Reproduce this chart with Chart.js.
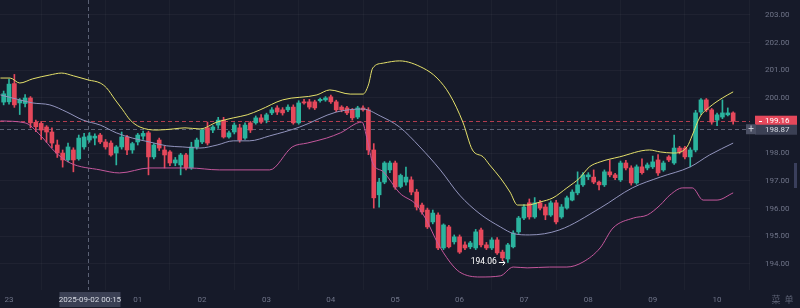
<!DOCTYPE html>
<html><head><meta charset="utf-8">
<script src="https://cdn.jsdelivr.net/npm/chart.js@4.4.0/dist/chart.umd.min.js"></script>
<style>html,body{margin:0;padding:0;background:#161a29;}#wrap{width:800px;height:308px;position:relative}</style>
</head><body><div id="wrap"><canvas id="c" width="800" height="308"></canvas></div>
<script>
// ---- data ----
const hourLabels = ["23","00","01","02","03","04","05","06","07","08","09","10"];
const hourMinutes = [0,60,120,180,240,300,360,420,480,540,600,660];   // minutes after 23:00
const yTickValues = [194,195,196,197,198,199,200,201,202,203];
const startMinute = -5;      // first candle 22:55, 5-minute candles
const stepMinutes = 5;
const opens = [199.85,199.86,200.52,199.82,199.80,200.00,199.12,199.08,198.95,198.77,198.30,198.01,197.76,198.12,197.80,198.23,198.48,198.55,198.66,198.41,198.37,198.01,198.23,198.59,198.12,198.41,198.62,198.74,197.87,198.48,198.12,198.05,197.65,197.58,197.94,197.47,198.23,198.41,198.92,198.84,199.02,199.20,198.59,198.77,198.92,198.55,199.10,199.10,199.28,199.20,199.46,199.64,199.57,199.57,199.67,199.10,199.86,199.86,199.86,199.90,199.93,200.04,199.86,199.67,199.64,199.57,199.31,199.64,199.57,198.12,196.50,196.96,197.40,197.65,196.80,196.96,197.04,196.60,196.13,195.95,195.52,195.77,194.58,195.34,194.80,194.98,194.69,194.62,194.58,195.23,194.69,194.58,194.87,194.43,194.18,194.62,195.16,195.66,196.21,195.70,196.21,196.06,195.77,196.21,195.70,196.02,196.31,196.57,196.86,197.15,197.14,196.96,196.86,197.33,197.22,197.04,197.65,197.47,196.93,197.51,197.47,197.51,197.76,197.40,197.87,197.65,198.19,198.19,197.87,198.12,199.49,199.93,199.57,199.20,199.31,199.39,199.46];
const highs = [200.25,200.68,200.85,199.98,200.12,200.05,199.20,199.15,199.00,198.92,198.48,198.12,198.37,198.20,198.66,198.72,198.75,198.70,198.72,198.50,198.45,198.28,198.77,198.65,198.40,198.72,198.80,198.80,198.35,198.55,198.25,198.10,197.85,198.00,198.00,198.40,198.55,198.90,199.13,199.00,199.30,199.30,198.80,199.10,199.05,199.10,199.15,199.35,199.40,199.45,199.65,199.72,199.65,199.75,199.75,199.90,199.95,199.95,199.92,200.00,200.05,200.10,199.92,199.72,199.70,199.62,199.70,199.72,199.65,198.35,197.10,197.70,197.72,197.72,197.25,197.50,197.15,196.70,196.20,196.02,195.95,195.85,195.45,195.40,195.05,195.05,194.80,194.82,195.25,195.30,194.78,194.95,194.95,194.50,194.75,195.20,195.72,196.15,196.35,196.40,196.30,196.15,196.28,196.30,196.15,196.45,196.68,197.33,197.30,197.30,197.40,197.00,197.40,197.76,197.28,197.72,197.75,197.55,197.58,197.80,197.65,197.90,197.95,197.72,197.92,198.66,198.25,198.25,198.20,199.55,199.98,199.98,199.62,199.45,199.93,199.64,199.50];
const lows = [199.75,199.78,199.66,199.40,199.68,198.92,198.78,198.50,198.40,198.20,197.85,197.50,197.69,197.33,197.75,198.15,198.40,198.30,198.35,198.15,197.90,197.58,198.15,197.95,198.00,198.30,198.50,197.22,197.80,198.10,197.47,197.55,197.55,197.22,197.40,197.42,198.15,198.35,198.30,198.75,198.90,198.55,198.55,198.70,198.40,198.50,198.75,199.05,199.08,199.10,199.40,199.40,199.38,199.50,199.05,199.05,199.78,199.60,199.58,199.85,199.88,199.80,199.50,199.50,199.40,199.20,199.25,199.52,197.95,196.02,196.05,196.90,197.30,196.70,196.75,196.85,196.50,195.95,195.80,195.28,195.45,194.52,194.52,194.58,194.72,194.38,194.52,194.55,194.52,194.62,194.52,194.52,194.35,194.12,194.06,194.58,195.10,195.60,195.62,195.65,195.95,195.60,195.72,195.45,195.65,195.98,196.28,196.50,196.80,197.05,196.90,196.68,196.80,197.15,197.05,196.98,197.40,196.85,196.88,197.25,197.40,197.45,197.20,197.35,197.70,197.60,197.98,197.80,197.51,198.05,199.40,199.50,199.05,199.00,199.25,199.35,199.05];
const closes = [200.15,200.50,199.75,199.92,200.00,199.10,198.96,198.84,198.77,198.37,198.01,197.76,198.23,197.76,198.55,198.59,198.63,198.62,198.41,198.23,197.94,198.23,198.59,198.12,198.35,198.66,198.72,197.87,198.30,198.19,197.94,197.65,197.76,197.94,197.47,198.23,198.48,198.84,198.37,198.95,199.20,198.59,198.74,199.02,198.48,199.02,198.84,199.28,199.13,199.39,199.57,199.49,199.46,199.67,199.10,199.82,199.82,199.67,199.64,199.95,200.00,199.86,199.57,199.57,199.46,199.28,199.64,199.57,198.12,196.39,196.96,197.65,197.65,196.78,197.20,197.14,196.60,196.06,195.88,195.34,195.84,194.58,195.41,194.62,194.98,194.43,194.58,194.76,195.16,194.69,194.58,194.87,194.40,194.22,194.69,195.12,195.66,196.06,195.70,196.21,196.02,195.77,196.21,195.52,196.06,196.39,196.60,196.86,197.22,197.22,196.96,196.86,197.33,197.22,197.12,197.65,197.47,196.93,197.51,197.30,197.58,197.69,197.29,197.65,197.76,198.19,198.05,197.87,198.12,199.46,199.93,199.57,199.13,199.39,199.46,199.46,199.16];
// Bollinger bands: [minute, price]
const upperBand = [[-8,200.72],[1,200.72],[10,200.54],[22,200.69],[38,200.83],[49,200.90],[60,200.80],[74,200.65],[85,200.54],[91,200.36],[99,199.93],[106,199.57],[113,199.20],[122,198.95],[138,198.84],[153,198.88],[164,198.92],[178,198.88],[194,199.13],[209,199.28],[222,199.39],[234,199.57],[255,199.93],[287,200.11],[299,200.29],[318,200.14],[330,200.14],[335,200.47],[339,201.08],[349,201.26],[364,201.34],[386,201.08],[399,200.72],[411,200.11],[423,199.13],[432,198.12],[442,197.87],[448,197.58],[458,197.11],[467,196.60],[474,196.13],[483,196.13],[495,196.24],[507,196.39],[520,196.75],[532,197.11],[541,197.51],[551,197.69],[569,197.87],[597,198.12],[607,198.05],[619,198.01],[632,198.23],[637,198.66],[644,199.31],[653,199.67],[665,200.00],[675,200.22]];
const middleBand = [[-8,200.11],[10,199.93],[22,199.82],[38,199.75],[54,199.49],[69,199.20],[85,199.02],[100,198.74],[115,198.55],[131,198.41],[147,198.27],[162,198.23],[178,198.19],[194,198.30],[209,198.45],[224,198.45],[243,198.63],[271,198.95],[305,199.49],[330,199.60],[346,199.35],[364,198.95],[383,198.23],[402,197.40],[420,196.49],[439,195.81],[458,195.34],[471,195.09],[485,195.05],[513,195.23],[551,196.02],[581,196.75],[607,197.14],[635,197.51],[653,197.94],[675,198.37]];
const lowerBand = [[-8,199.17],[15,199.10],[29,198.66],[43,198.05],[57,197.65],[85,197.40],[103,197.29],[131,197.47],[168,197.47],[196,197.40],[243,197.40],[264,198.23],[278,198.37],[296,198.55],[309,198.74],[329,199.13],[334,198.48],[339,197.65],[349,197.33],[364,196.57],[380,196.13],[390,195.52],[399,194.80],[411,194.07],[420,193.71],[439,193.53],[458,193.57],[470,193.89],[483,193.86],[504,193.89],[520,193.89],[535,194.07],[551,194.58],[563,195.30],[582,195.66],[595,195.77],[607,196.13],[616,196.49],[628,196.75],[637,196.75],[647,196.31],[660,196.31],[675,196.57]];
const lastPrice = 199.16;
const crossPrice = 198.87;
const crossMinute = 75;      // 00:15
const crossLabel = "2025-09-02 00:15";
const cornerLabels = ["菜","单"];

// ---- derived ----
const times = opens.map((_, k) => startMinute + k * stepMinutes);
const UP = '#2bb39e', DOWN = '#e5485b';
const candleColors = opens.map((o, k) => closes[k] >= opens[k] ? UP : DOWN);
const wickData = times.map((t, k) => ({x: t, y: [lows[k], highs[k]]}));
const bodyData = times.map((t, k) => ({x: t, y: [opens[k], closes[k]]}));
const toPts = arr => arr.map(p => ({x: p[0], y: p[1]}));
let minK = 0; lows.forEach((v, k) => { if (v < lows[minK]) minK = k; });

const BG = '#161a29';
const TXT = '#6f7488';
const FONT = 'Roboto, "Noto Sans", sans-serif';

const overlay = {
  id: 'overlay',
  beforeDraw(chart) {
    const c = chart.ctx; c.save(); c.fillStyle = BG; c.fillRect(0, 0, chart.width, chart.height); c.restore();
  },
  beforeDatasetsDraw(chart) {
    const c = chart.ctx, xs = chart.scales.x, ys = chart.scales.y, a = chart.chartArea;
    c.save();
    c.lineWidth = 1;
    let y = Math.round(ys.getPixelForValue(lastPrice)) + 0.5;
    c.strokeStyle = 'rgba(229,72,91,0.75)'; c.setLineDash([4, 3]);
    c.beginPath(); c.moveTo(a.left, y); c.lineTo(a.right, y); c.stroke();
    c.strokeStyle = 'rgba(150,156,178,0.55)'; c.setLineDash([4, 3]);
    y = Math.round(ys.getPixelForValue(crossPrice)) + 0.5;
    c.beginPath(); c.moveTo(a.left, y); c.lineTo(a.right, y); c.stroke();
    const x = Math.round(xs.getPixelForValue(crossMinute)) - 0.5;
    c.beginPath(); c.moveTo(x, 0); c.lineTo(x, a.bottom); c.stroke();
    c.restore();
  },
  afterDraw(chart) {
    const c = chart.ctx, xs = chart.scales.x, ys = chart.scales.y, a = chart.chartArea;
    c.save();
    c.font = '8px ' + FONT; c.textBaseline = 'middle';
    let y = ys.getPixelForValue(lastPrice);
    c.fillStyle = DOWN; c.fillRect(755, y - 5.5, 42, 10);
    c.fillStyle = '#ffffff'; c.textAlign = 'left';
    c.fillRect(759, Math.round(y), 3, 1);
    c.fillText(lastPrice.toFixed(2), 765, y);
    y = ys.getPixelForValue(crossPrice);
    c.fillStyle = '#3b4054'; c.fillRect(755, y - 4.5, 42, 10);
    c.fillStyle = '#4a4f63'; c.fillRect(746, y - 5, 10, 10);
    c.fillStyle = '#d7dae3'; c.fillText(crossPrice.toFixed(2), 765, y + 0.5);
    c.textAlign = 'center'; c.fillStyle = '#c9ccd6'; c.font = '10px ' + FONT;
    c.fillText('+', 751, y);
    const x = xs.getPixelForValue(crossMinute);
    c.font = '8px ' + FONT;
    c.fillStyle = '#3b4054'; c.fillRect(x - 30, a.bottom + 2, 61, 15);
    c.fillStyle = '#d7dae3'; c.textAlign = 'center'; c.fillText(crossLabel, x + 0.5, a.bottom + 10);
    const lx = xs.getPixelForValue(times[minK]), ly = ys.getPixelForValue(lows[minK]);
    c.fillStyle = '#ffffff'; c.textAlign = 'right'; c.font = '8.5px ' + FONT;
    c.fillText(lows[minK].toFixed(2), lx - 11, ly);
    c.strokeStyle = '#ffffff'; c.lineWidth = 1;
    c.beginPath(); c.moveTo(lx - 9, Math.round(ly) + 0.5); c.lineTo(lx - 3, Math.round(ly) + 0.5); c.stroke();
    c.beginPath(); c.moveTo(lx - 5, ly - 2); c.lineTo(lx - 3, ly + 0.5); c.lineTo(lx - 5, ly + 3); c.stroke();
    c.fillStyle = '#5d6275'; c.font = '9px "Noto Sans CJK SC", sans-serif'; c.textAlign = 'center';
    c.fillText(cornerLabels[0], 776, a.bottom + 10);
    c.fillText(cornerLabels[1], 789, a.bottom + 10);
    c.fillStyle = '#3a3f5c'; c.fillRect(794, 163, 3, 25);
    c.restore();
  }
};

new Chart(document.getElementById('c'), {
  type: 'bar',
  data: {
    datasets: [
      { type: 'line', data: toPts(upperBand), borderColor: '#e4e06a', borderWidth: 1, pointRadius: 0, cubicInterpolationMode: 'monotone', order: 0 },
      { type: 'line', data: toPts(middleBand), borderColor: '#9294bd', borderWidth: 1, pointRadius: 0, cubicInterpolationMode: 'monotone', order: 0 },
      { type: 'line', data: toPts(lowerBand), borderColor: '#c4579c', borderWidth: 1, pointRadius: 0, cubicInterpolationMode: 'monotone', order: 0 },
      { data: wickData, backgroundColor: candleColors, barThickness: 1, grouped: false, borderWidth: 0, borderSkipped: false, order: 2 },
      { data: bodyData, backgroundColor: candleColors, barThickness: 4, grouped: false, borderWidth: 0, borderSkipped: false, order: 1 }
    ]
  },
  options: {
    responsive: false, animation: false, devicePixelRatio: 1,
    layout: { padding: 0, autoPadding: false },
    plugins: { legend: { display: false }, tooltip: { enabled: false } },
    scales: {
      x: {
        type: 'linear', min: -8.4, max: 690.7, offset: false,
        afterFit(s) { s.height = 18; s.paddingLeft = 0; s.paddingRight = 0; s.paddingTop = 0; s.paddingBottom = 0; },
        afterBuildTicks(s) { s.ticks = hourMinutes.map(v => ({ value: v })); },
        grid: { color: 'rgba(255,255,255,0.03)', drawTicks: false },
        border: { display: false },
        ticks: { autoSkip: false, maxRotation: 0, padding: 5, color: TXT, font: { size: 8, family: FONT },
          callback: v => hourLabels[hourMinutes.indexOf(v)] }
      },
      y: {
        position: 'right', min: 193.06, max: 203.54,
        afterFit(s) { s.width = 50; s.paddingTop = 0; s.paddingBottom = 0; s.paddingLeft = 0; s.paddingRight = 0; },
        afterBuildTicks(s) { s.ticks = yTickValues.map(v => ({ value: v })); },
        grid: { color: 'rgba(255,255,255,0.04)', drawTicks: false },
        border: { display: false },
        ticks: { padding: 15, color: TXT, font: { size: 8, family: FONT }, callback: v => v.toFixed(2) }
      }
    }
  },
  plugins: [overlay]
});
</script></body></html>
